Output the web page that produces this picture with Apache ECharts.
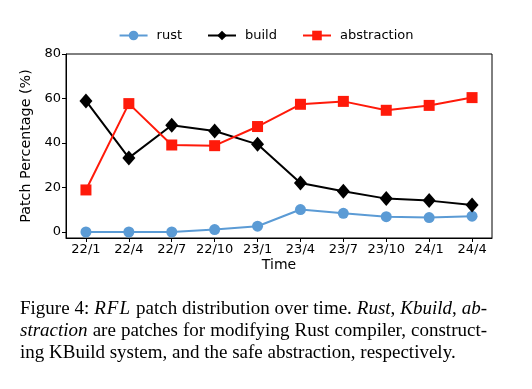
<!DOCTYPE html>
<html><head><meta charset="utf-8">
<script src="https://cdn.jsdelivr.net/npm/echarts@6/dist/echarts.min.js"></script>
<style>
html,body{margin:0;padding:0;background:#fff;}
#c{width:532px;height:389px;position:absolute;left:0;top:0;}
#cap{position:absolute;left:20px;top:297px;width:467px;font-family:"Liberation Serif","Times New Roman",serif;font-size:19px;line-height:22px;color:#000;}
#cap div{text-align:justify;text-align-last:justify;white-space:nowrap;}
#cap div.last{text-align-last:left;}
</style></head><body>
<div id="c"></div>
<div id="cap"><div>Figure 4: <i style="letter-spacing:1px">RFL</i> patch distribution over time. <i>Rust</i>, <i>Kbuild</i>, <i>ab-</i></div><div><i>straction</i> are patches for modifying Rust compiler, construct-</div><div class="last">ing KBuild system, and the safe abstraction, respectively.</div></div>
<script>
const categories = ["22/1","22/4","22/7","22/10","23/1","23/4","23/7","23/10","24/1","24/4"];
const rust = [0, 0, 0, 1.1, 2.6, 10.1, 8.4, 6.9, 6.5, 7.1];
const build = [58.9, 33.3, 48.0, 45.4, 39.4, 22.0, 18.3, 15.0, 14.1, 12.1];
const abstraction = [18.9, 57.7, 39.1, 38.8, 47.4, 57.4, 58.7, 54.7, 56.9, 60.4];
const yTicks = [0, 20, 40, 60, 80];

const toPts = arr => arr.map((v, i) => [i, v]);
const chart = echarts.init(document.getElementById('c'));
const font = 'DejaVu Sans';
chart.setOption({
  animation: false,
  textStyle: {fontFamily: font},
  legend: {
    top: 24, left: 'center', itemGap: 25, itemWidth: 28, itemHeight: 12,
    textStyle: {fontFamily: font, fontSize: 13, color: '#000', padding: [0, 0, 0, 4]},
    data: ['rust', 'build', 'abstraction']
  },
  grid: {left: 66, top: 54, width: 426, height: 184, show: true, borderColor: '#000', borderWidth: 1, containLabel: false},
  xAxis: {
    type: 'value', min: -0.465, max: 9.465,
    name: 'Time', nameLocation: 'middle', nameGap: 20,
    nameTextStyle: {fontFamily: font, fontSize: 14, color: '#000'},
    splitLine: {show: false},
    axisLine: {show: true, onZero: false, lineStyle: {color: '#000', width: 1}},
    axisTick: {show: true, length: 4, lineStyle: {color: '#000'}, customValues: categories.map((c, i) => i)},
    axisLabel: {fontFamily: font, fontSize: 13, color: '#000', margin: 5,
      customValues: categories.map((c, i) => i),
      formatter: v => categories[Math.round(v)]}
  },
  yAxis: {
    type: 'value', min: -2.7, max: 80,
    name: 'Patch Percentage (%)', nameLocation: 'middle', nameGap: 23, nameRotate: 90,
    nameTextStyle: {fontFamily: font, fontSize: 14.3, color: '#000'},
    splitLine: {show: false},
    axisLine: {show: true, onZero: false, lineStyle: {color: '#000', width: 1}},
    axisTick: {show: true, length: 4, lineStyle: {color: '#000'}, customValues: yTicks},
    axisLabel: {fontFamily: font, fontSize: 13, color: '#000', margin: 5, customValues: yTicks}
  },
  series: [
    {name: 'rust', type: 'line', data: toPts(rust), symbol: 'circle', symbolSize: 11,
     lineStyle: {color: '#5b9bd5', width: 2}, itemStyle: {color: '#5b9bd5'}},
    {name: 'build', type: 'line', data: toPts(build), symbol: 'diamond', symbolSize: [13, 15],
     lineStyle: {color: '#000', width: 2}, itemStyle: {color: '#000'}},
    {name: 'abstraction', type: 'line', data: toPts(abstraction), symbol: 'rect', symbolSize: 11,
     lineStyle: {color: '#ff1a0a', width: 2}, itemStyle: {color: '#ff1a0a'}}
  ]
});
</script>
</body></html>
